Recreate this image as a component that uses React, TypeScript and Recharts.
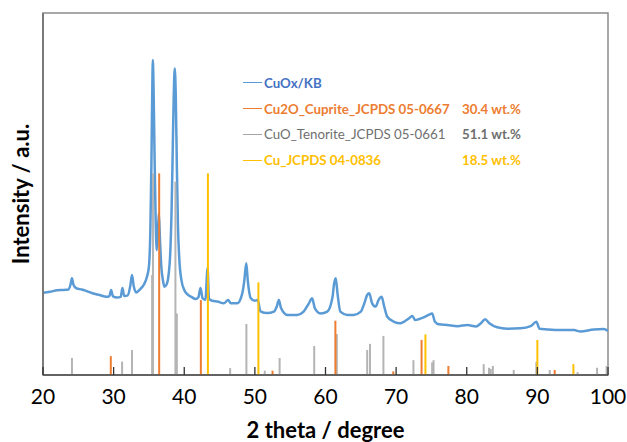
import React from 'react';
import {
  ComposedChart,
  Line,
  XAxis,
  YAxis,
  ReferenceLine,
  ReferenceArea,
  Legend,
  Label,
} from 'recharts';

// ---------------- data ----------------
const xTicks = [20, 30, 40, 50, 60, 70, 80, 90, 100];

// measured CuOx/KB pattern: [2theta, intensity (a.u.)]
const cuoxKb: [number, number][] = [
  [20, 22.7], [21, 23.0], [22, 23.4], [23, 23.5], [23.6, 23.6], [23.9, 25.0], [24.1, 26.7],
  [24.3, 25.0], [24.7, 24.0], [25.5, 23.6], [26, 23.3], [27, 22.6], [28, 22.1], [29, 21.6],
  [29.4, 21.8], [29.65, 23.5], [29.9, 21.7], [30.5, 21.4], [31, 21.6], [31.25, 24.0],
  [31.5, 21.8], [32, 22.0], [32.35, 24.5], [32.6, 27.6], [32.85, 24.5], [33.2, 22.8],
  [33.8, 23.8], [34.3, 25.0], [34.7, 27.0], [35.0, 30.0], [35.2, 40.0], [35.35, 58.0],
  [35.45, 75.0], [35.55, 87.0], [35.65, 80.0], [35.8, 60.0], [35.95, 43.0], [36.1, 34.5],
  [36.25, 38.0], [36.4, 44.7], [36.55, 38.0], [36.75, 30.0], [37.0, 26.0], [37.2, 24.4],
  [37.5, 25.0], [37.8, 28.0], [38.0, 33.0], [38.2, 45.0], [38.35, 60.0], [38.5, 76.0],
  [38.65, 84.7], [38.8, 77.0], [38.95, 58.0], [39.1, 42.0], [39.3, 32.0], [39.6, 26.2],
  [40.0, 23.5], [40.5, 22.2], [41.0, 21.6], [41.6, 21.0], [42.0, 21.5], [42.3, 24.0],
  [42.6, 21.2], [43.0, 20.8], [43.3, 29.5], [43.5, 21.0], [44.0, 20.5], [44.7, 20.3],
  [45.6, 19.8], [46.2, 20.7], [46.6, 19.8], [47.5, 19.8], [48.2, 22.4], [48.5, 26.0],
  [48.78, 30.9], [49.0, 26.0], [49.4, 21.3], [50.0, 20.5], [50.4, 20.7], [50.8, 17.6],
  [51.75, 17.1], [52.7, 17.5], [53.1, 18.9], [53.4, 20.7], [53.7, 18.5], [54.6, 16.6],
  [56.0, 16.6], [56.9, 17.5], [57.65, 19.8], [58.1, 21.2], [58.5, 18.4], [59.3, 17.0],
  [60.25, 17.5], [61.0, 21.6], [61.2, 25.0], [61.45, 26.7], [61.7, 22.5], [62.1, 17.5],
  [63.1, 16.6], [64.0, 16.6], [65.0, 17.5], [65.5, 19.8], [65.9, 22.1], [66.2, 22.6],
  [66.6, 19.8], [67.1, 18.9], [67.5, 20.7], [67.95, 21.6], [68.3, 19.0], [68.75, 16.1],
  [69.7, 14.7], [70.6, 14.3], [71.1, 14.7], [71.8, 15.6], [72.3, 16.3], [72.7, 15.2],
  [73.2, 15.4], [73.9, 15.9], [74.6, 16.6], [75.1, 17.0], [75.5, 14.7], [76.05, 14.0],
  [77.25, 13.8], [78.7, 13.5], [80.1, 13.8], [81.3, 13.4], [82.0, 14.3], [82.6, 15.4],
  [83.2, 14.3], [84.3, 13.2], [85.75, 12.8], [87.6, 12.9], [89.05, 13.5], [89.85, 14.7],
  [90.3, 12.8], [91.4, 12.6], [93.3, 12.4], [95.2, 12.4], [96.1, 12.0], [98.0, 12.6],
  [99.4, 12.7], [100, 12.2],
];

// reference patterns (stick positions and heights)
const cu2oPos = [29.6, 36.45, 42.35, 52.5, 61.4, 69.6, 73.6, 77.4, 92.45];
const cu2oInt = [5.2, 55.7, 20.7, 1.2, 15.0, 1.0, 9.7, 2.5, 1.4];

const cuoPos = [
  24.1, 31.2, 32.6, 35.45, 35.57, 38.75, 38.95, 46.5, 48.8, 51.4, 53.5, 58.4, 61.6, 65.9,
  66.3, 68.2, 72.45, 75.1, 75.3, 82.4, 83.15, 83.4, 83.7, 86.65, 89.85, 91.75, 95.7, 98.45, 99.8,
];
const cuoInt = [
  4.7, 3.7, 6.9, 27.6, 55.7, 53.4, 17.0, 1.9, 14.1, 1.2, 4.7, 8.0, 11.3, 6.9,
  8.6, 10.8, 4.1, 3.5, 4.1, 3.0, 2.0, 1.7, 2.5, 1.4, 3.6, 1.4, 0.8, 2.0, 2.5,
];

const cuPos = [43.35, 50.5, 74.15, 90.0, 95.1];
const cuInt = [55.7, 25.6, 11.2, 9.7, 3.0];

const seriesNames = [
  'CuOx/KB',
  'Cu2O_Cuprite_JCPDS 05-0667',
  'CuO_Tenorite_JCPDS 05-0661',
  'Cu_JCPDS 04-0836',
];
const wtLabels = ['', '30.4 wt.%', '51.1 wt.%', '18.5 wt.%'];

// ---------------- styles ----------------
const FONT = 'Lato, "Open Sans", sans-serif';
const lineColors = ['#5B9BD5', '#ED7D31', '#A5A5A5', '#FFC000'];
const textColors = ['#4472C4', '#ED7D31', '#6F6F6F', '#FFC000'];
const textWeights = [700, 700, 400, 700];
const stickColors = { cu2o: '#ED7D31', cuo: '#B4B4B4', cu: '#FFC000' };

const data = cuoxKb.map(([t, v]) => ({ t, v }));

function XTick(props: any) {
  const { x, y, payload } = props;
  return (
    <g>
      <line x1={x} x2={x} y1={y} y2={y - 8} stroke="#333" strokeWidth={1.3} />
      <text x={x} y={y + 29} textAnchor="middle" fontSize={21} fontFamily={FONT} fill="#000">
        {payload.value}
      </text>
    </g>
  );
}

function LegendBox() {
  return (
    <div style={{ fontFamily: FONT, fontSize: 13.3, position: 'relative', width: 320 }}>
      {seriesNames.map((n, i) => (
        <div
          key={n}
          style={{ position: 'relative', height: 25.8, display: 'flex', alignItems: 'center' }}
        >
          <span
            style={{
              display: 'inline-block',
              width: 19,
              height: 0,
              borderTop: `1.5px solid ${lineColors[i]}`,
              marginRight: 2,
            }}
          />
          <span style={{ color: textColors[i], whiteSpace: 'nowrap', fontWeight: textWeights[i] }}>
            {n}
          </span>
          {wtLabels[i] ? (
            <span
              style={{
                position: 'absolute',
                left: 219,
                color: textColors[i],
                whiteSpace: 'nowrap',
                fontWeight: 700,
              }}
            >
              {wtLabels[i]}
            </span>
          ) : null}
        </div>
      ))}
    </div>
  );
}

function sticks(pos: number[], ints: number[], color: string, key: string) {
  return pos.map((p, i) => (
    <ReferenceLine
      key={`${key}-${i}`}
      segment={[
        { x: p, y: 0 },
        { x: p, y: ints[i] },
      ]}
      stroke={color}
      strokeWidth={2}
      ifOverflow="visible"
    />
  ));
}

export default function App() {
  return (
    <div style={{ width: 627, height: 442, background: '#fff' }}>
      <style>{'body{margin:0;background:#fff;}'}</style>
      <ComposedChart
        width={627}
        height={442}
        data={data}
        margin={{ top: 13, right: 19, bottom: 4, left: 0 }}
      >
        <ReferenceArea
          x1={20}
          x2={100}
          y1={0}
          y2={100}
          fill="none"
          stroke="#8c8c8c"
          strokeWidth={1.5}
          ifOverflow="visible"
        />
        <XAxis
          dataKey="t"
          type="number"
          domain={[20, 100]}
          ticks={xTicks}
          interval={0}
          tick={<XTick />}
          tickLine={false}
          tickSize={0}
          tickMargin={0}
          axisLine={{ stroke: '#4d4d4d', strokeWidth: 1.5 }}
          height={63}
          allowDataOverflow
        >
          <Label
            value="2 theta / degree"
            position="insideBottom"
            offset={0}
            fontSize={22}
            fontWeight="bold"
            fontFamily={FONT}
            fill="#000"
          />
        </XAxis>
        <YAxis
          type="number"
          domain={[0, 100]}
          tick={false}
          tickLine={false}
          axisLine={{ stroke: '#6b6b6b', strokeWidth: 1.5 }}
          width={43}
          allowDataOverflow
        >
          <Label
            value="Intensity / a.u."
            angle={-90}
            position="center"
            fontSize={22}
            fontWeight="bold"
            fontFamily={FONT}
            fill="#000"
          />
        </YAxis>
        <Line
          type="monotone"
          dataKey="v"
          stroke="#5B9BD5"
          strokeWidth={2.5}
          dot={false}
          isAnimationActive={false}
        />
        {sticks(cuoPos, cuoInt, stickColors.cuo, 'cuo')}
        {sticks(cu2oPos, cu2oInt, stickColors.cu2o, 'cu2o')}
        {sticks(cuPos, cuInt, stickColors.cu, 'cu')}
        <Legend
          content={<LegendBox />}
          layout="vertical"
          align="center"
          verticalAlign="middle"
          wrapperStyle={{ left: 243, top: 70, width: 320 }}
        />
      </ComposedChart>
    </div>
  );
}
